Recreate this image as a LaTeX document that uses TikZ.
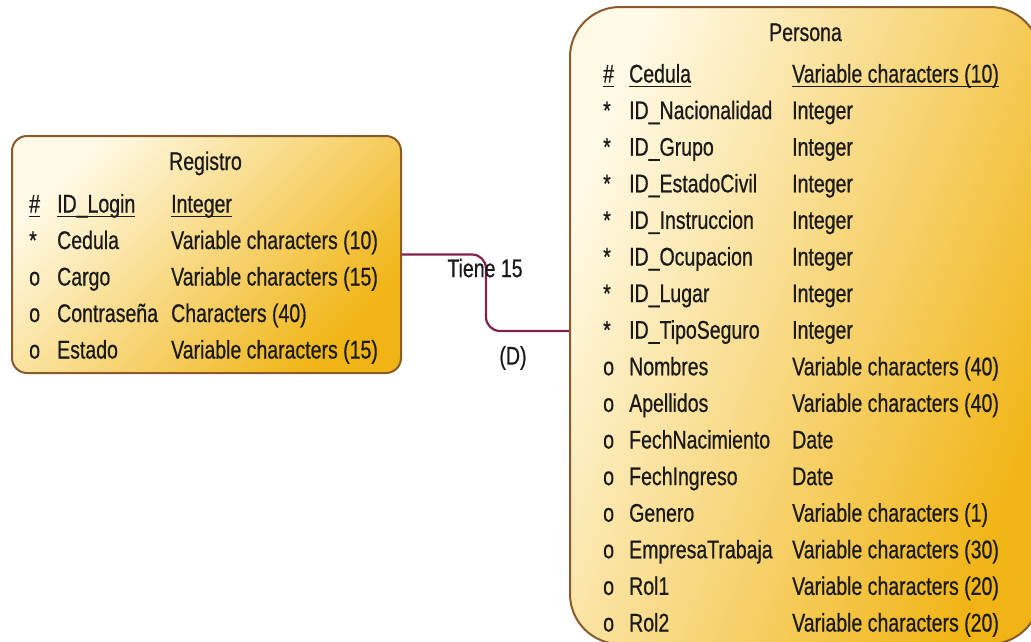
\documentclass[tikz,border=0pt]{standalone}
\usepackage{fontspec}
\setmainfont{Liberation Sans}[FakeStretch=0.765, FakeBold=0.6]
\usetikzlibrary{calc}
\definecolor{ink}{HTML}{1A1A1A}
\definecolor{cream}{HTML}{FFFAE6}
\definecolor{gold}{HTML}{F0B414}
\definecolor{rim}{HTML}{8A5A2C}
\definecolor{link}{HTML}{84204C}
\tikzset{
  entity/.style={draw=rim, line width=2pt, top color=cream, bottom color=gold,
    shading angle=45, inner sep=0pt},
  cell/.style={anchor=base west, inner sep=0pt, text=ink,
    font=\fontsize{25.5}{30}\selectfont},
  title/.style={anchor=base, inner sep=0pt, text=ink,
    font=\fontsize{25.5}{30}\selectfont},
  keyline/.style={draw=ink, line width=1.6pt},
  rel/.style={draw=link, line width=2.2pt, rounded corners=14pt},
  lbl/.style={inner sep=0pt, text=ink, font=\fontsize{25.5}{30}\selectfont},
}
\begin{document}
\begin{tikzpicture}[x=1pt, y=-1pt]
\useasboundingbox (0,0) rectangle (1031,641);
\clip (0,0) rectangle (1031,641);

% entity boxes
\node[entity, rounded corners=15pt, minimum width=389pt, minimum height=237pt] (reg) at (206.5,254.5) {};
\node[entity, shading angle=68, rounded corners=50pt, minimum width=470pt, minimum height=637pt] (pers) at (805,325.5) {};

% Registro
\node[title] (regt) at (205.5,170) {Registro};
\node[cell] (rk1) at (29,212.5) {\#};
\node[cell] (rk2) at (57,212.5) {ID\_Login};
\node[cell] (rk3) at (171,212.5) {Integer};
\foreach \k in {rk1,rk2,rk3}
  \draw[keyline] ([yshift=-4pt]\k.base west) -- ([yshift=-4pt]\k.base east);
\foreach \s/\n/\t [count=\i] in {
  */Cedula/Variable characters (10),
  o/Cargo/Variable characters (15),
  o/Contraseña/Characters (40),
  o/Estado/Variable characters (15)} {
  \node[cell] (rs\i) at (29,212.5+36.5*\i) {\s};
  \node[cell] (rn\i) at (57,212.5+36.5*\i) {\n};
  \node[cell] (rt\i) at (171,212.5+36.5*\i) {\t};
}

% Persona
\node[title] (perst) at (805.5,41) {Persona};
\node[cell] (pk1) at (603,82.5) {\#};
\node[cell] (pk2) at (629,82.5) {Cedula};
\node[cell] (pk3) at (792,82.5) {Variable characters (10)};
\foreach \k in {pk1,pk2,pk3}
  \draw[keyline] ([yshift=-4pt]\k.base west) -- ([yshift=-4pt]\k.base east);
\foreach \s/\n/\t [count=\i] in {
  */ID\_Nacionalidad/Integer,
  */ID\_Grupo/Integer,
  */ID\_EstadoCivil/Integer,
  */ID\_Instruccion/Integer,
  */ID\_Ocupacion/Integer,
  */ID\_Lugar/Integer,
  */ID\_TipoSeguro/Integer,
  o/Nombres/Variable characters (40),
  o/Apellidos/Variable characters (40),
  o/FechNacimiento/Date,
  o/FechIngreso/Date,
  o/Genero/Variable characters (1),
  o/EmpresaTrabaja/Variable characters (30),
  o/Rol1/Variable characters (20),
  o/Rol2/Variable characters (20)} {
  \node[cell] (ps\i) at (603,82.5+36.6*\i) {\s};
  \node[cell] (pn\i) at (629,82.5+36.6*\i) {\n};
  \node[cell] (pt\i) at (792,82.5+36.6*\i) {\t};
}

% relationship
\coordinate (bend) at (486,290);
\coordinate (pin) at ([yshift=-5.5pt]pers.west);
\draw[rel] (reg.east) -| (bend) |- (pin);
\node[lbl] (tiene) at (485,268) {Tiene 15};
\node[lbl] (card) at (513,358) {(D)};
\end{tikzpicture}
\end{document}
